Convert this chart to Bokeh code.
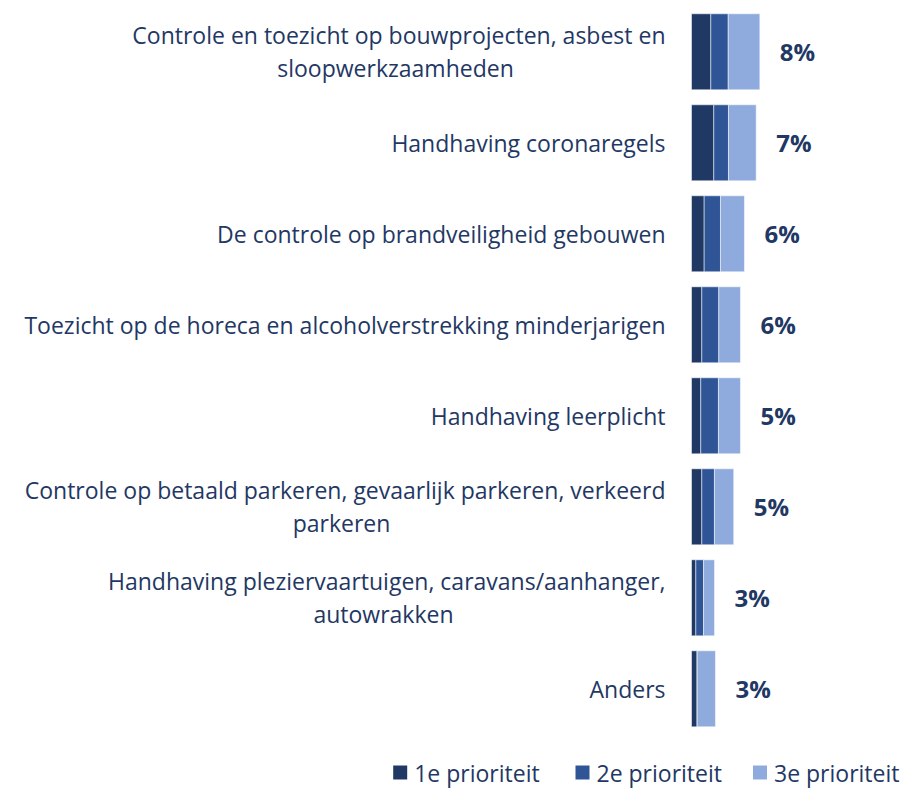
from bokeh.plotting import figure
from bokeh.models import ColumnDataSource, Range1d
from bokeh.core.properties import value
from bokeh.embed import file_html
from bokeh.resources import INLINE

# ---------------- data ----------------
categories = [
    "Controle en toezicht op bouwprojecten, asbest en\nsloopwerkzaamheden",
    "Handhaving coronaregels",
    "De controle op brandveiligheid gebouwen",
    "Toezicht op de horeca en alcoholverstrekking minderjarigen",
    "Handhaving leerplicht",
    "Controle op betaald parkeren, gevaarlijk parkeren, verkeerd\nparkeren",
    "Handhaving pleziervaartuigen, caravans/aanhanger,\nautowrakken",
    "Anders",
]
prio1 = [2.27, 2.62, 1.49, 1.21, 1.09, 1.21, 0.51, 0.67]
prio2 = [2.05, 1.73, 1.92, 2.00, 2.08, 1.49, 0.91, 0.00]
prio3 = [3.72, 3.26, 2.82, 2.55, 2.59, 2.27, 1.29, 2.15]
total_labels = ["8%", "7%", "6%", "6%", "5%", "5%", "3%", "3%"]
series_names = ["1e prioriteit", "2e prioriteit", "3e prioriteit"]

# ---------------- style / layout ----------------
COLORS = ["#1f3864", "#2f5597", "#8faadc"]
TEXT = "#1f3864"
FONT = "Open Sans"
W, H = 911, 790
PX = 8.5            # pixels per percent
X0 = 691            # screen x of bar origin
ROW0 = 51.3         # screen y of first row centre
ROWH = 91.0         # row pitch in px

x_start = -X0 / PX
x_end = (W - X0) / PX
y_top = -ROW0 / ROWH
y_bottom = (H - ROW0) / ROWH

p = figure(width=W, height=H, output_backend="svg", toolbar_location=None,
           x_range=Range1d(x_start, x_end), y_range=Range1d(y_bottom, y_top),
           min_border=0, x_axis_type=None, y_axis_type=None)
p.outline_line_color = None
p.grid.visible = False
p.background_fill_color = "white"
p.border_fill_color = "white"

n = len(categories)
ys = list(range(n))
totals = [a + b + c for a, b, c in zip(prio1, prio2, prio3)]
src = ColumnDataSource(dict(y=ys, p1=prio1, p2=prio2, p3=prio3,
                            tot=totals, lab=total_labels))

p.hbar_stack(["p1", "p2", "p3"], y="y", height=76 / ROWH, color=COLORS,
             line_color="white", line_alpha=0.5, line_width=1, source=src)

# value labels
p.text(x="tot", y="y", text="lab", source=src, x_offset=20,
       text_align="left", text_baseline="middle",
       text_font=value(FONT), text_font_style="bold",
       text_font_size="24px", text_color=TEXT)

# category labels (second lines centred under the first line)
line_gap = 16.5 / ROWH
second_line_center_px = {0: -296, 5: -350, 6: -308}
s_x, s_y, s_t = [], [], []
for i, cat in enumerate(categories):
    parts = cat.split("\n")
    if len(parts) == 1:
        s_x.append(0); s_y.append(i); s_t.append(parts[0])
    else:
        s_x.append(0); s_y.append(i - line_gap); s_t.append(parts[0])
        p.text(x=[0], y=[i + line_gap], text=[parts[1]],
               x_offset=second_line_center_px.get(i, -200),
               text_align="center", text_baseline="middle",
               text_font=value(FONT), text_font_size="23px", text_color=TEXT)
p.text(x=s_x, y=s_y, text=s_t, x_offset=-26, text_align="right",
       text_baseline="middle", text_font=value(FONT),
       text_font_size="23px", text_color=TEXT)

# legend (drawn manually)
leg_y = (772 - ROW0) / ROWH
leg_sq_px = [399.7, 582, 759.5]
for name, col, sx in zip(series_names, COLORS, leg_sq_px):
    xd = (sx - X0) / PX
    p.scatter(x=[xd], y=[leg_y], marker="square", size=14,
              fill_color=col, line_color=None)
    p.text(x=[xd], y=[leg_y], text=[name], x_offset=14,
           text_align="left", text_baseline="middle",
           text_font=value(FONT), text_font_size="23px", text_color=TEXT)

open("out.html", "w").write(file_html(p, INLINE))
